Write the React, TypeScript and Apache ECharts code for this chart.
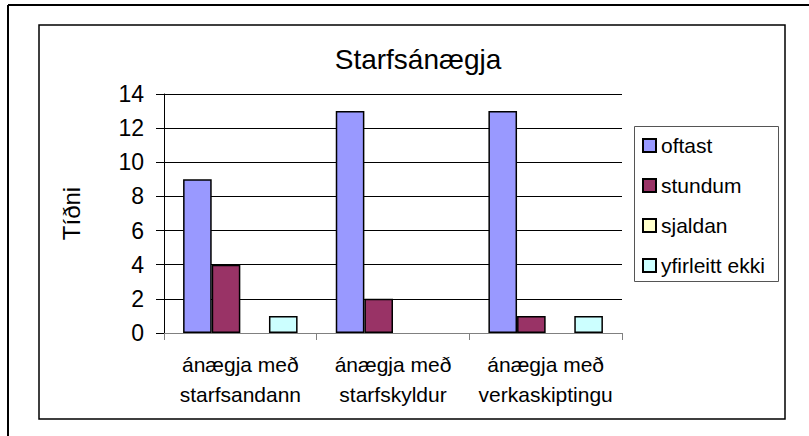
import React, { useEffect, useRef } from "react";
import * as echarts from "echarts";

const categories = ["ánægja með\nstarfsandann", "ánægja með\nstarfskyldur", "ánægja með\nverkaskiptingu"];
const seriesNames = ["oftast", "stundum", "sjaldan", "yfirleitt ekki"];
const oftast = [9, 13, 13];
const stundum = [4, 2, 1];
const sjaldan = [0, 0, 0];
const yfirleittEkki = [1, 0, 1];
const seriesColors = ["#9999FF", "#993366", "#FFFFCC", "#CCFFFF"];
const yTicks = { min: 0, max: 14, interval: 2 };

const FONT = "'Liberation Sans', Arial, sans-serif";

export default function App() {
  const ref = useRef<HTMLDivElement>(null);
  useEffect(() => {
    if (!ref.current) return;
    const chart = echarts.init(ref.current, undefined, { renderer: "svg" });
    const values = [oftast, stundum, sjaldan, yfirleittEkki];
    chart.setOption({
      animation: false,
      backgroundColor: "#ffffff",
      textStyle: { fontFamily: FONT },
      title: {
        text: "Starfsánægja",
        left: 413,
        textAlign: "center",
        top: 40,
        textStyle: { fontFamily: FONT, fontSize: 28, fontWeight: "normal", color: "#000" },
      },
      graphic: [
        { type: "line", shape: { x1: 8, y1: 5, x2: 809, y2: 5 }, style: { stroke: "#000", lineWidth: 2 } },
        { type: "line", shape: { x1: 8, y1: 5, x2: 8, y2: 436 }, style: { stroke: "#000", lineWidth: 2 } },
        { type: "rect", shape: { x: 39, y: 25, width: 746, height: 394 }, style: { fill: "none", stroke: "#000", lineWidth: 1.5 } },
        { type: "rect", shape: { x: 634.5, y: 126.5, width: 144, height: 155 }, style: { fill: "#fff", stroke: "#555", lineWidth: 1 }, z: -1 },
      ],
      legend: {
        orient: "vertical",
        left: 642,
        top: 135,
        padding: 0,
        itemWidth: 13,
        itemHeight: 13,
        itemGap: 19,
        icon: "rect",
        textStyle: { fontFamily: FONT, fontSize: 21, lineHeight: 20, color: "#000" },
        data: seriesNames,
      },
      grid: { left: 164, top: 94, width: 458, height: 239, containLabel: false },
      xAxis: {
        type: "category",
        data: categories,
        axisLine: { lineStyle: { color: "#808080", width: 1 } },
        axisTick: { show: true, length: 7, lineStyle: { color: "#808080" } },
        axisLabel: { fontFamily: FONT, fontSize: 21, lineHeight: 30, color: "#000", margin: 16, interval: 0 },
      },
      yAxis: {
        type: "value",
        min: yTicks.min,
        max: yTicks.max,
        interval: yTicks.interval,
        name: "Tíðni",
        nameLocation: "middle",
        nameRotate: 90,
        nameGap: 81,
        nameTextStyle: { fontFamily: FONT, fontSize: 24, color: "#000" },
        axisLine: { show: true, lineStyle: { color: "#000", width: 1 } },
        axisTick: { show: true, length: 8, lineStyle: { color: "#000" } },
        axisLabel: { fontFamily: FONT, fontSize: 23, color: "#000", margin: 20 },
        splitLine: { show: true, lineStyle: { color: "#000", width: 1 } },
      },
      series: seriesNames.map((name, i) => ({
        name,
        type: "bar",
        barGap: "0%",
        barCategoryGap: "25%",
        itemStyle: { color: seriesColors[i], borderColor: "#000", borderWidth: 1.5 },
        data: values[i].map((v) => (v === 0 ? { value: v, itemStyle: { borderWidth: 0 } } : v)),
      })),
    });
    return () => chart.dispose();
  }, []);
  return <div ref={ref} style={{ position: "fixed", left: 0, top: 0, width: 809, height: 436 }} />;
}
